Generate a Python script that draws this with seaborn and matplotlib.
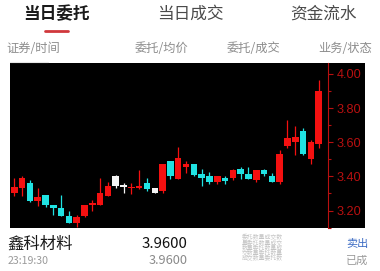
import matplotlib
matplotlib.use("Agg")
import matplotlib.pyplot as plt
from matplotlib.patches import Rectangle
from matplotlib.lines import Line2D
from matplotlib.ticker import MultipleLocator, FormatStrFormatter
import numpy as np
import pandas as pd
import seaborn as sns

# ---- daily K-line data ----
opens = [3.30, 3.33, 3.36, 3.255, 3.29, 3.23, 3.215, 3.17, 3.125, 3.17,
         3.235, 3.235, 3.285, 3.40, 3.345, 3.33, 3.33, 3.36, 3.33, 3.315,
         3.49, 3.385, 3.455, 3.47, 3.415, 3.40, 3.365, 3.39, 3.39, 3.445,
         3.415, 3.38, 3.435, 3.405, 3.365, 3.58, 3.60, 3.665, 3.50, 3.59]
highs = [3.39, 3.405, 3.38, 3.33, 3.29, 3.235, 3.29, 3.195, 3.175, 3.235,
         3.26, 3.39, 3.37, 3.41, 3.36, 3.36, 3.435, 3.39, 3.335, 3.47,
         3.49, 3.57, 3.49, 3.47, 3.445, 3.425, 3.40, 3.40, 3.445, 3.455,
         3.455, 3.435, 3.445, 3.42, 3.555, 3.73, 3.695, 3.685, 3.615, 3.965]
lows = [3.285, 3.285, 3.25, 3.225, 3.22, 3.175, 3.17, 3.13, 3.105, 3.16,
        3.20, 3.23, 3.285, 3.33, 3.305, 3.295, 3.325, 3.315, 3.30, 3.305,
        3.385, 3.385, 3.42, 3.40, 3.345, 3.355, 3.355, 3.355, 3.38, 3.385,
        3.385, 3.37, 3.40, 3.37, 3.355, 3.565, 3.525, 3.525, 3.475, 3.565]
closes = [3.34, 3.39, 3.255, 3.28, 3.23, 3.215, 3.17, 3.13, 3.16, 3.23,
          3.24, 3.30, 3.345, 3.345, 3.34, 3.335, 3.345, 3.325, 3.30, 3.47,
          3.40, 3.505, 3.47, 3.41, 3.39, 3.37, 3.40, 3.375, 3.435, 3.415,
          3.385, 3.435, 3.415, 3.37, 3.53, 3.625, 3.63, 3.53, 3.60, 3.90]
kinds = ["up", "up", "down", "up", "down", "down", "down", "down", "up", "up",
         "up", "up", "up", "even", "even", "up", "up", "down", "even", "up",
         "down", "up", "up", "down", "down", "down", "up", "down", "up", "down",
         "down", "up", "down", "down", "up", "up", "up", "down", "up", "up"]
price_ticks = [3.2, 3.4, 3.6, 3.8, 4.0]

# ---- page texts ----
tabs = ["当日委托", "当日成交", "资金流水"]
headers = ["证券/时间", "委托/均价", "委托/成交", "业务/状态"]
stock_name = "鑫科材料"
order_time = "23:19:30"
order_price = 3.96
avg_price = 3.96
side = "卖出"
status = "已成"
masked_rows = ["委托数量成交数", "量委托数量成交", "数量委托数量成", "交数量委托数量", "成交数量委托数"]

sns.set_theme(style="dark")
plt.rcParams["font.family"] = ["Noto Sans CJK SC", "DejaVu Sans"]

W, H = 380, 271
fig = plt.figure(figsize=(W / 100, H / 100), dpi=100)
fig.patch.set_facecolor("white")


def fx(px):
    return px / W


def fy(py):
    return 1 - py / H


# tab bar
tab_x = [56, 190, 323]
for i, (t, x) in enumerate(zip(tabs, tab_x)):
    fig.text(fx(x), fy(14), t, ha="center", va="center", fontsize=12,
             fontweight="bold" if i == 0 else "normal",
             color="#1a1a1a" if i == 0 else "#4a4a4a")
fig.add_artist(Line2D([fx(44.5), fx(68)], [fy(30.7), fy(30.7)], transform=fig.transFigure,
                      color="#d0383c", linewidth=2.0, solid_capstyle="round"))

# column headers
hdr_pos = [(6.7, "left"), (161, "center"), (253, "center"), (371.7, "right")]
for h, (x, ha) in zip(headers, hdr_pos):
    fig.text(fx(x), fy(48.3), h, ha=ha, va="center", fontsize=8.8, color="#8c8c8c")
fig.add_artist(Line2D([fx(10), fx(48)], [fy(61.5), fy(61.5)], transform=fig.transFigure,
                      color="#e6e6e6", linewidth=0.8))

# chart panel (black backdrop incl. price scale)
fig.add_artist(Rectangle((fx(10), fy(228)), fx(365) - fx(10), fy(63) - fy(228),
                         transform=fig.transFigure, facecolor="black", edgecolor="none", zorder=-1))
ax = fig.add_axes([fx(10), fy(228), fx(328) - fx(10), fy(63) - fy(228)])
ax.set_facecolor("black")

df = pd.DataFrame(dict(open=opens, high=highs, low=lows, close=closes, kind=kinds))
df["x"] = np.arange(len(df))
df["lo"] = df[["open", "close"]].min(axis=1)
df["hi"] = df[["open", "close"]].max(axis=1)
palette = {"up": "#f41010", "down": "#20e2e2", "even": "#f4f4f4"}
cols = df["kind"].map(palette).tolist()

ax.vlines(df["x"], df["low"], df["high"], colors=cols, linewidth=0.9, zorder=2)
body_h = (df["hi"] - df["lo"]).clip(lower=0.008)
ax.bar(df["x"], body_h, bottom=df["lo"], width=0.84, color=cols, linewidth=0, zorder=3)

ax.set_xlim(-0.55, 40.19)
ax.set_ylim(3.098, 4.064)
ax.grid(False)
axis_red = "#b81010"
ax.yaxis.tick_right()
ax.set_yticks(price_ticks)
ax.yaxis.set_minor_locator(MultipleLocator(0.1))
ax.yaxis.set_major_formatter(FormatStrFormatter("%.2f"))
ax.tick_params(axis="y", which="major", colors=axis_red, length=3.6, width=0.8,
               pad=2.5, labelsize=9.2, direction="out")
ax.tick_params(axis="y", which="minor", colors=axis_red, length=2.3, width=0.8,
               direction="out", right=True, left=False)
ax.tick_params(axis="x", bottom=False, labelbottom=False)
for lbl in ax.get_yticklabels():
    lbl.set_fontfamily("Liberation Sans")
for s in ["top", "left", "bottom"]:
    ax.spines[s].set_visible(False)
ax.spines["right"].set_color(axis_red)
ax.spines["right"].set_linewidth(0.8)

# order row
fig.text(fx(7.3), fy(244), stock_name, ha="left", va="center", fontsize=11.8, color="#1a1a1a")
fig.text(fx(187.3), fy(243.5), f"{order_price:.4f}", ha="right", va="center",
         fontsize=10.8, fontweight="medium", color="#111111")
fig.text(fx(7.3), fy(260.7), order_time, ha="left", va="center", fontsize=7.6, color="#9a9a9a")
fig.text(fx(187.3), fy(260.7), f"{avg_price:.4f}", ha="right", va="center", fontsize=9.2, color="#8a8a8a")
fig.text(fx(368.3), fy(244), side, ha="right", va="center", fontsize=8, color="#3d6cc4")
fig.text(fx(368.3), fy(260.7), status, ha="right", va="center", fontsize=8, color="#9a9a9a")
for i, row in enumerate(masked_rows):
    fig.text(fx(262.5), fy(237.5 + i * 5.2), row, ha="center", va="center",
             fontsize=4.2, color="#c4c4c4")

fig.savefig("out.png", dpi=100, facecolor="white")
